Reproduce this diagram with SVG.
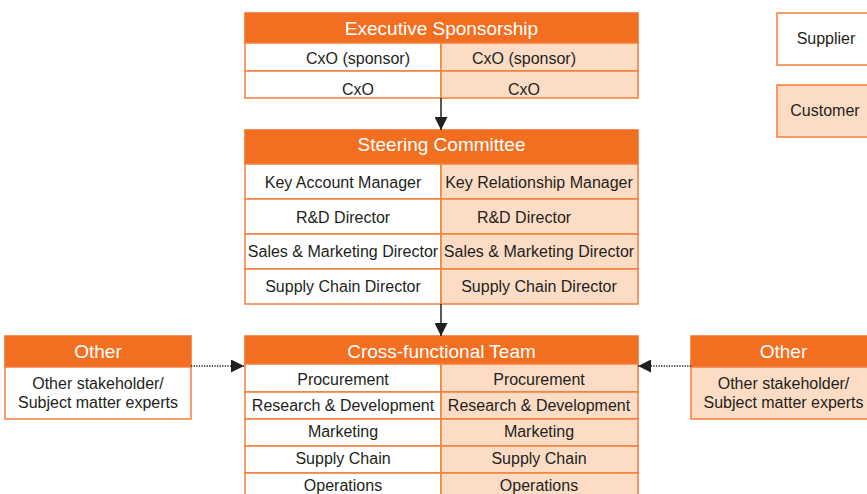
<svg xmlns="http://www.w3.org/2000/svg" width="867" height="494" viewBox="0 0 867 494">
<defs>
<style>
.hd{fill:#F26F21;stroke:#F26F21;stroke-width:1.5}
.s{fill:#FFFFFF;stroke:#F47F3A;stroke-width:1.5}
.c{fill:#FCDCC5;stroke:#F47F3A;stroke-width:1.5}
.ht{font-family:"Liberation Sans",Arial,sans-serif;font-size:19px;fill:#FFFFFF;text-anchor:middle}
.t{font-family:"Liberation Sans",Arial,sans-serif;font-size:16px;fill:#231F20;text-anchor:middle}
.ln{stroke:#231F20;stroke-width:1.5;fill:none}
.dt{stroke:#231F20;stroke-width:1.3;stroke-dasharray:1.3 1.3;fill:none}
</style>
<marker id="ah" markerWidth="13" markerHeight="13" refX="13" refY="6.5" orient="auto" markerUnits="userSpaceOnUse">
<path d="M0,0 L13,6.5 L0,13 Z" fill="#231F20"/>
</marker>
</defs>
<rect width="867" height="494" fill="#FFFFFF"/>

<g id="exec">
<rect class="hd" x="245" y="13" width="393" height="30"/>
<text class="ht" x="441.5" y="34.5">Executive Sponsorship</text>
<rect class="s" x="245" y="43" width="196" height="28"/>
<rect class="c" x="441" y="43" width="197" height="28"/>
<rect class="s" x="245" y="71" width="196" height="27"/>
<rect class="c" x="441" y="71" width="197" height="27"/>
<text class="t" x="358" y="64">CxO (sponsor)</text>
<text class="t" x="524" y="64">CxO (sponsor)</text>
<text class="t" x="358" y="94.5">CxO</text>
<text class="t" x="524" y="94.5">CxO</text>
</g>

<g id="steering">
<rect class="hd" x="245" y="130" width="393" height="34"/>
<text class="ht" x="441.5" y="150.5">Steering Committee</text>
<rect class="s" x="245" y="164" width="196" height="35"/>
<rect class="c" x="441" y="164" width="197" height="35"/>
<rect class="s" x="245" y="199" width="196" height="35"/>
<rect class="c" x="441" y="199" width="197" height="35"/>
<rect class="s" x="245" y="234" width="196" height="35"/>
<rect class="c" x="441" y="234" width="197" height="35"/>
<rect class="s" x="245" y="269" width="196" height="35"/>
<rect class="c" x="441" y="269" width="197" height="35"/>
<text class="t" x="343" y="188">Key Account Manager</text>
<text class="t" x="539" y="188">Key Relationship Manager</text>
<text class="t" x="343" y="223">R&amp;D Director</text>
<text class="t" x="524" y="223">R&amp;D Director</text>
<text class="t" x="343" y="257">Sales &amp; Marketing Director</text>
<text class="t" x="539" y="257">Sales &amp; Marketing Director</text>
<text class="t" x="343" y="292">Supply Chain Director</text>
<text class="t" x="539" y="292">Supply Chain Director</text>
</g>

<g id="crossfunctional">
<rect class="hd" x="245" y="336" width="393" height="28"/>
<text class="ht" x="441.5" y="358">Cross-functional Team</text>
<rect class="s" x="245" y="364" width="196" height="28"/>
<rect class="c" x="441" y="364" width="197" height="28"/>
<rect class="s" x="245" y="392" width="196" height="27"/>
<rect class="c" x="441" y="392" width="197" height="27"/>
<rect class="s" x="245" y="419" width="196" height="27"/>
<rect class="c" x="441" y="419" width="197" height="27"/>
<rect class="s" x="245" y="446" width="196" height="27"/>
<rect class="c" x="441" y="446" width="197" height="27"/>
<rect class="s" x="245" y="473" width="196" height="30"/>
<rect class="c" x="441" y="473" width="197" height="30"/>
<text class="t" x="343" y="385">Procurement</text>
<text class="t" x="539" y="385">Procurement</text>
<text class="t" x="343" y="410.5">Research &amp; Development</text>
<text class="t" x="539" y="410.5">Research &amp; Development</text>
<text class="t" x="343" y="437">Marketing</text>
<text class="t" x="539" y="437">Marketing</text>
<text class="t" x="343" y="464">Supply Chain</text>
<text class="t" x="539" y="464">Supply Chain</text>
<text class="t" x="343" y="491">Operations</text>
<text class="t" x="539" y="491">Operations</text>
</g>

<g id="other-left">
<rect class="hd" x="5" y="336" width="186" height="31"/>
<text class="ht" x="98" y="358">Other</text>
<rect class="s" x="5" y="367" width="186" height="52"/>
<text class="t" x="98" y="388.5">Other stakeholder/</text>
<text class="t" x="98" y="407.5">Subject matter experts</text>
</g>

<g id="other-right">
<rect class="hd" x="691" y="336" width="185" height="31"/>
<text class="ht" x="783.5" y="358">Other</text>
<rect class="c" x="691" y="367" width="185" height="52"/>
<text class="t" x="783.5" y="388.5">Other stakeholder/</text>
<text class="t" x="783.5" y="407.5">Subject matter experts</text>
</g>

<g id="legend-supplier">
<rect class="s" x="777" y="13" width="99" height="52"/>
<text class="t" x="826" y="44">Supplier</text>
</g>

<g id="legend-customer">
<rect class="c" x="777" y="85" width="99" height="52"/>
<text class="t" x="825" y="116">Customer</text>
</g>

<g id="connectors">
<line class="ln" x1="441" y1="98" x2="441" y2="130" marker-end="url(#ah)"/>
<line class="ln" x1="441" y1="304" x2="441" y2="336" marker-end="url(#ah)"/>
<line class="dt" x1="191" y1="366" x2="244" y2="366" marker-end="url(#ah)"/>
<line class="dt" x1="691" y1="366" x2="638" y2="366" marker-end="url(#ah)"/>
</g>
</svg>
